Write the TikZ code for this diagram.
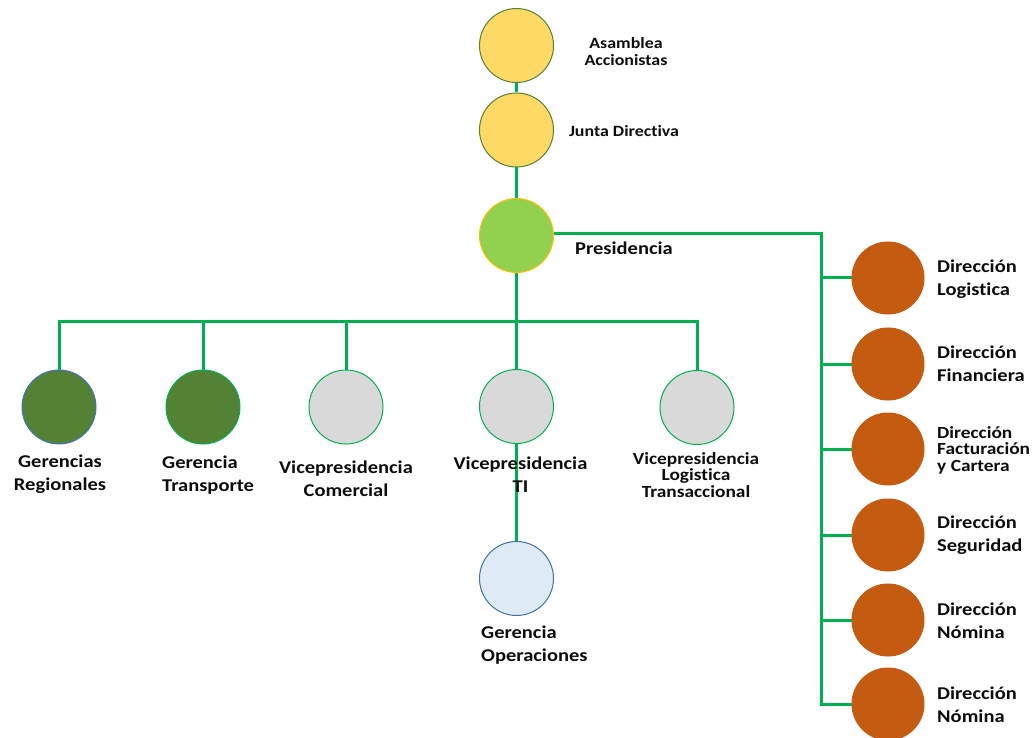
\documentclass[tikz,border=0pt]{standalone}
\usepackage{fontspec}
\setmainfont{Carlito}[FakeStretch=1.14, Ligatures=NoCommon]
\definecolor{linkgreen}{HTML}{00B050}
\definecolor{gold}{HTML}{FFD966}
\definecolor{olive}{HTML}{538135}
\definecolor{lime}{HTML}{92D050}
\definecolor{amber}{HTML}{FFC000}
\definecolor{forest}{HTML}{548235}
\definecolor{steel}{HTML}{4472C4}
\definecolor{silver}{HTML}{D9D9D9}
\definecolor{ice}{HTML}{DEEBF7}
\definecolor{navyline}{HTML}{41719C}
\definecolor{rust}{HTML}{C55A11}
\definecolor{ink}{HTML}{0D0D0D}
\begin{document}
\begin{tikzpicture}[x=1pt,y=-1pt,
  unit/.style={circle, minimum size=74pt, inner sep=0pt, line width=1pt},
  board/.style={unit, fill=gold, draw=olive},
  gray unit/.style={unit, fill=silver, draw=linkgreen},
  dir/.style={unit, fill=rust, draw=rust, minimum size=72pt},
  link/.style={draw=linkgreen, line width=3pt},
  lbl/.style={font=\bfseries\fontsize{18}{23}\selectfont, text=ink, inner sep=0pt},
  small/.style={lbl, font=\bfseries\fontsize{17}{16.5}\selectfont},
  tiny/.style={lbl, font=\bfseries\fontsize{15.7}{17}\selectfont}]
\useasboundingbox (0,0) rectangle (1034,738);

% governance
\node[board] (asam) at (516.5,45.5) {};
\node[board] (junta) at (516.5,130) {};
\node[unit, fill=lime, draw=amber] (pres) at (516.5,235.5) {};

% vice-presidencies and managements
\node[unit, fill=forest, draw=steel] (greg) at (59,407) {};
\node[unit, fill=forest, draw=linkgreen] (gtra) at (203,407) {};
\node[gray unit] (vcom) at (346,407) {};
\node[gray unit] (vti) at (516.5,406.5) {};
\node[gray unit] (vlog) at (697,407.5) {};
\node[unit, fill=ice, draw=navyline] (gope) at (516.5,578.5) {};

% directorates
\node[dir] (d1) at (888,278) {};
\node[dir] (d2) at (888,364) {};
\node[dir] (d3) at (888,449) {};
\node[dir] (d4) at (888,535) {};
\node[dir] (d5) at (888,620) {};
\node[dir] (d6) at (888,704) {};

% connectors
\coordinate (bus) at (516.5,321);
\coordinate (rtop) at (821,234);
\draw[link] (asam) -- (junta);
\draw[link] (junta) -- (pres);
\draw[link] (pres) -- (bus) -- (vti);
\draw[link] (bus) -| (greg);
\draw[link] (bus) -| (gtra);
\draw[link] (bus) -| (vcom);
\draw[link] (bus) -| (vlog);
\draw[link] (vti) -- (gope);
\draw[link] (pres.east |- rtop) -- (rtop) |- (d6);
\foreach \d in {d1,d2,d3,d4,d5}
  \draw[link] (rtop |- \d) -- (\d);

% labels
\node[tiny, align=center] (tasam) at (626,52) {Asamblea\\Accionistas};
\node[tiny] (tjunta) at (624,131) {Junta Directiva};
\node[lbl] (tpres) at (624,248) {Presidencia};

\node[lbl, align=center] (tgreg) at (60,474) {Gerencias\\Regionales};
\node[lbl, align=left, anchor=west] (tgtra) at (162,475) {Gerencia\\Transporte};
\node[lbl, align=center] (tvcom) at (346,479) {Vicepresidencia\\Comercial};
\node[lbl, align=center] (tvti) at (520.5,475) {Vicepresidencia\\TI};
\node[small, align=center] (tvlog) at (696,475) {Vicepresidencia\\Logistica\\Transaccional};
\node[lbl, align=left, anchor=west] (tgope) at (481,645) {Gerencia\\Operaciones};

\node[lbl, align=left, anchor=west] (td1) at (937,279) {Dirección\\Logistica};
\node[lbl, align=left, anchor=west] (td2) at (937,364) {Dirección\\Financiera};
\node[small, align=left, anchor=west] (td3) at (937,450) {Dirección\\Facturación\\y Cartera};
\node[lbl, align=left, anchor=west] (td4) at (937,535) {Dirección\\Seguridad};
\node[lbl, align=left, anchor=west] (td5) at (937,621) {Dirección\\Nómina};
\node[lbl, align=left, anchor=west] (td6) at (937,705) {Dirección\\Nómina};
\end{tikzpicture}
\end{document}
